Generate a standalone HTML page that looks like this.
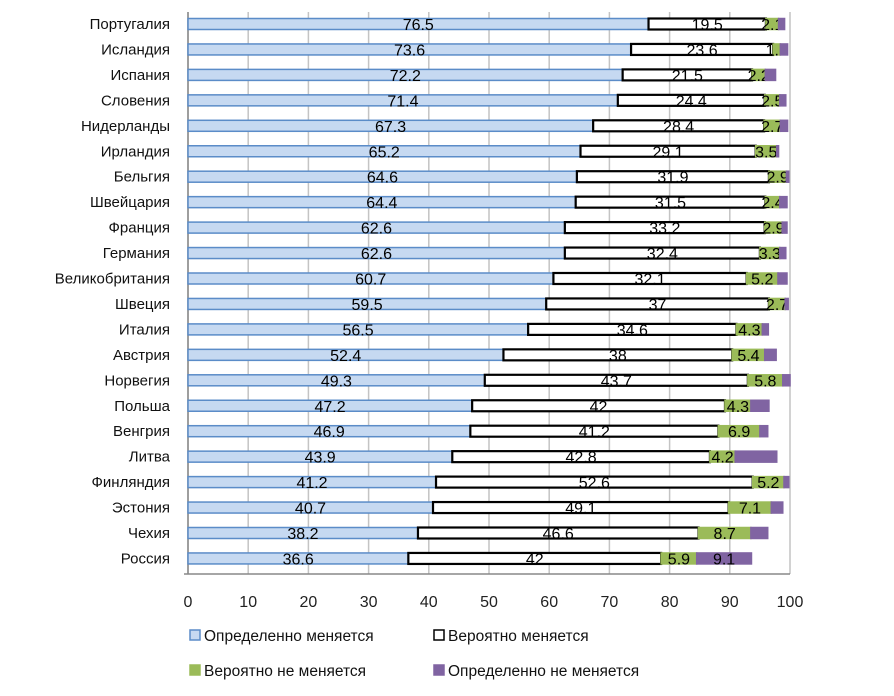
<!DOCTYPE html>
<html><head><meta charset="utf-8">
<style>
body{margin:0;background:#fff;width:894px;height:691px;overflow:hidden;font-family:"Liberation Sans","DejaVu Sans",sans-serif;}
svg text{font-family:"Liberation Sans","DejaVu Sans",sans-serif;}
</style></head>
<body>
<svg id="chart" width="894" height="691" xmlns="http://www.w3.org/2000/svg"></svg>
<script>
const countries=["Португалия","Исландия","Испания","Словения","Нидерланды","Ирландия","Бельгия","Швейцария","Франция","Германия","Великобритания","Швеция","Италия","Австрия","Норвегия","Польша","Венгрия","Литва","Финляндия","Эстония","Чехия","Россия"];
const defChanges=[76.5,73.6,72.2,71.4,67.3,65.2,64.6,64.4,62.6,62.6,60.7,59.5,56.5,52.4,49.3,47.2,46.9,43.9,41.2,40.7,38.2,36.6];
const probChanges=[19.5,23.6,21.5,24.4,28.4,29.1,31.9,31.5,33.2,32.4,32.1,37,34.6,38,43.7,42,41.2,42.8,52.6,49.1,46.6,42];
const probNot=[2.1,1.2,2.2,2.5,2.7,3.5,2.9,2.4,2.9,3.3,5.2,2.7,4.3,5.4,5.8,4.3,6.9,4.2,5.2,7.1,8.7,5.9];
const defNot=[1.0,1.2,1.7,1.0,1.2,0.3,0.4,1.2,0.8,1.0,1.5,0.5,1.0,1.9,1.2,3.0,1.3,6.9,0.8,1.9,2.8,9.1];
const defNotShown=[false,false,false,false,false,false,false,false,false,false,false,false,false,false,false,false,false,false,false,false,false,true];
const ticks=[0,10,20,30,40,50,60,70,80,90,100];
const series=[
 {name:"Определенно меняется",vals:defChanges,fill:"#c6d9f1",stroke:"#5b8cc8",key:"def-changes"},
 {name:"Вероятно меняется",vals:probChanges,fill:"#ffffff",stroke:"#000000",key:"prob-changes"},
 {name:"Вероятно не меняется",vals:probNot,fill:"#9bbb59",stroke:"#9bbb59",key:"prob-not"},
 {name:"Определенно не меняется",vals:defNot,fill:"#8064a2",stroke:"#8064a2",key:"def-not"}
];
const NS="http://www.w3.org/2000/svg";
const svg=document.getElementById('chart');
const X0=188,X1=790,Y0=24,DY=25.45,BH=11;
const xs=v=>X0+(X1-X0)*v/100;
const ys=i=>Y0+i*DY;
function mk(tag,attrs,parent){const e=document.createElementNS(NS,tag);for(const k in attrs)e.setAttribute(k,attrs[k]);(parent||svg).appendChild(e);return e;}
ticks.forEach(t=>{
 const l=mk('line',{x1:xs(t),x2:xs(t),y1:12,y2:574,stroke:"#c4c4c4","stroke-width":1.5});
 
 
 const tx=mk('text',{x:xs(t),y:607,"text-anchor":"middle","font-size":16,fill:"#222"});
 tx.textContent=t;
 
 
});
mk('line',{x1:X0,x2:X0,y1:12,y2:574,stroke:"#888","stroke-width":1.5});
mk('line',{x1:X0-4,x2:X1,y1:574,y2:574,stroke:"#888","stroke-width":1.5});
countries.forEach((c,i)=>{
 const y=ys(i);
 const t=mk('text',{x:170,y:y+5,"text-anchor":"end","font-size":15,fill:"#111"});
 t.textContent=c;
 
 
 let acc=0;
 series.forEach(s=>{
  const v=s.vals[i];
  const r=mk('rect',{x:xs(acc),y:y-BH/2,width:xs(acc+v)-xs(acc),height:BH,fill:s.fill,stroke:s.stroke,"stroke-width":s.key==="prob-changes"?2.2:1.5});
  
  
  const show = s.key==="def-not" ? defNotShown[i] : true;
  if(show){
   const lt=mk('text',{x:(xs(acc)+xs(acc+v))/2,y:y+6,"text-anchor":"middle","font-size":16,fill:"#000"});
   lt.textContent=v;
   
   
  }
  acc+=v;
 });
});
const lg=[[190,636],[434,636],[190,671],[434,671]];
series.forEach((s,k)=>{
 const [lx,ly]=lg[k];
 const r=mk('rect',{x:lx,y:ly-6,width:10,height:10,fill:s.fill,stroke:s.stroke,"stroke-width":1.5});
 
 
 const t=mk('text',{x:lx+14,y:ly+5,"font-size":15.5,fill:"#111"});
 t.textContent=s.name;
 
 
});
</script>
</body></html>
